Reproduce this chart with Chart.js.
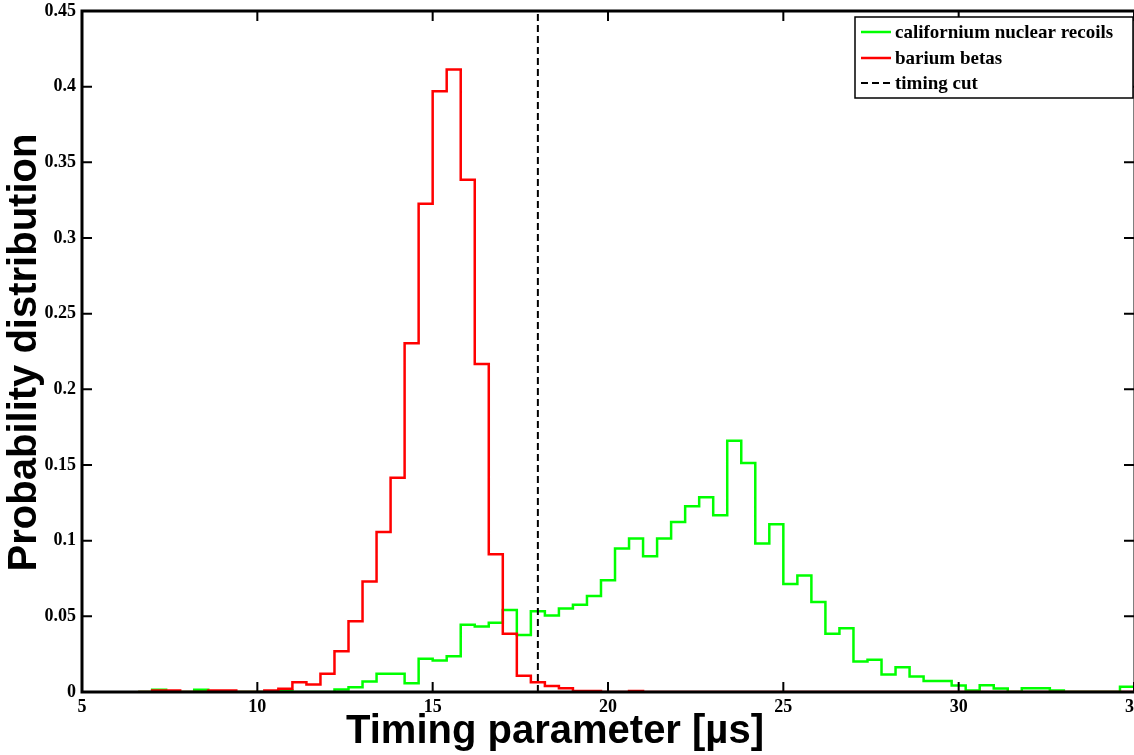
<!DOCTYPE html>
<html>
<head>
<meta charset="utf-8">
<script src="https://cdn.jsdelivr.net/npm/chart.js@4.4.0/dist/chart.umd.min.js"></script>
<style>
  html, body { margin: 0; padding: 0; background: #ffffff; }
  #wrap { width: 1134px; height: 755px; position: relative; }
</style>
</head>
<body>
<div id="wrap"><canvas id="c" width="1134" height="755"></canvas></div>
<script>
// Histogram bin centres [µs]; every bin is 0.4 µs wide
const binCenters = [
  6.8, 7.2, 7.6, 8.0, 8.4, 8.8, 9.2, 9.6, 10.0, 10.4,
  10.8, 11.2, 11.6, 12.0, 12.4, 12.8, 13.2, 13.6, 14.0, 14.4,
  14.8, 15.2, 15.6, 16.0, 16.4, 16.8, 17.2, 17.6, 18.0, 18.4,
  18.8, 19.2, 19.6, 20.0, 20.4, 20.8, 21.2, 21.6, 22.0, 22.4,
  22.8, 23.2, 23.6, 24.0, 24.4, 24.8, 25.2, 25.6, 26.0, 26.4,
  26.8, 27.2, 27.6, 28.0, 28.4, 28.8, 29.2, 29.6, 30.0, 30.4,
  30.8, 31.2, 31.6, 32.0, 32.4, 32.8, 33.2, 33.6, 34.0, 34.4,
  34.8
];
const binWidth = 0.4;

// Normalised counts per bin
const californiumRecoils = [
  0, 0.0015, 0, 0, 0.0015, 0, 0, 0, 0, 0,
  0.001, 0, 0, 0, 0.0017, 0.0032, 0.0069, 0.012, 0.012, 0.0058,
  0.022, 0.0208, 0.0237, 0.0445, 0.0433, 0.0458, 0.0542, 0.0376, 0.0534, 0.0506,
  0.0551, 0.0577, 0.0634, 0.0738, 0.0948, 0.1014, 0.0897, 0.1014, 0.1124, 0.1228,
  0.1287, 0.1168, 0.166, 0.1514, 0.0981, 0.1108, 0.0713, 0.077, 0.0594, 0.0385,
  0.0422, 0.0202, 0.0213, 0.0116, 0.0164, 0.0103, 0.0072, 0.0072, 0.0043, 0.001,
  0.0045, 0.0023, 0, 0.0025, 0.0025, 0.001, 0, 0, 0, 0,
  0.0034
];
const bariumBetas = [
  0, 0.001, 0.001, 0, 0, 0.001, 0.001, 0, 0, 0.001,
  0.0022, 0.0065, 0.005, 0.012, 0.027, 0.0467, 0.0731, 0.1058, 0.1415, 0.2304,
  0.3226, 0.397, 0.4113, 0.3385, 0.2167, 0.091, 0.0385, 0.0108, 0.0065, 0.004,
  0.0025, 0.0007, 0.0007, 0, 0, 0.0007, 0, 0, 0, 0,
  0, 0, 0, 0, 0, 0, 0, 0, 0, 0,
  0, 0, 0, 0, 0, 0, 0, 0, 0, 0,
  0, 0, 0, 0, 0, 0, 0, 0, 0, 0,
  0
];
const timingCut = 18;

const xTicks = [5, 10, 15, 20, 25, 30, 35];
const yTicks = [0, 0.05, 0.1, 0.15, 0.2, 0.25, 0.3, 0.35, 0.4, 0.45];
const seriesLabels = ['californium nuclear recoils', 'barium betas', 'timing cut'];
const xTitle = 'Timing parameter [µs]';
const yTitle = 'Probability distribution';

// Turn per-bin values into stair-step points at the bin edges:
// each point holds its bin's value from its left edge to the next point
function stairs(values) {
  const pts = binCenters.map((c, i) => ({ x: c - binWidth / 2, y: values[i] }));
  const last = binCenters.length - 1;
  pts.push({ x: binCenters[last] + binWidth / 2, y: values[last] });
  return pts;
}

// Box around the plot with inward tick marks on all four sides
const framePlugin = {
  id: 'frame',
  afterDatasetsDraw(chart) {
    const { ctx, chartArea: a, scales } = chart;
    const right = a.right + 1;
    ctx.save();
    ctx.strokeStyle = '#000';
    ctx.lineWidth = 3;
    ctx.beginPath();
    ctx.moveTo(a.left, a.top); ctx.lineTo(right, a.top);
    ctx.moveTo(a.left, a.bottom); ctx.lineTo(right, a.bottom);
    ctx.moveTo(a.left, a.top - 1.5); ctx.lineTo(a.left, a.bottom + 1.5);
    ctx.moveTo(right, a.top); ctx.lineTo(right, a.bottom);
    ctx.stroke();
    ctx.lineWidth = 2;
    ctx.beginPath();
    xTicks.forEach(v => {
      const px = scales.x.getPixelForValue(v);
      ctx.moveTo(px, a.bottom); ctx.lineTo(px, a.bottom - 10);
      ctx.moveTo(px, a.top); ctx.lineTo(px, a.top + 10);
    });
    yTicks.forEach(v => {
      const py = scales.y.getPixelForValue(v);
      ctx.moveTo(a.left, py); ctx.lineTo(a.left + 10, py);
      ctx.moveTo(right, py); ctx.lineTo(right - 11, py);
    });
    ctx.stroke();
    ctx.restore();
  }
};

// Axis titles and the boxed legend in the upper right corner
const annotatePlugin = {
  id: 'annotate',
  afterDraw(chart) {
    const { ctx, chartArea: a } = chart;
    ctx.save();
    ctx.fillStyle = '#000';
    ctx.font = 'bold 40px "Liberation Sans", Arial, sans-serif';
    ctx.textAlign = 'center';
    ctx.textBaseline = 'alphabetic';
    ctx.fillText(xTitle, 555, 743);
    ctx.save();
    ctx.translate(36, (a.top + a.bottom) / 2 + 1);
    ctx.rotate(-Math.PI / 2);
    ctx.fillText(yTitle, 0, 0);
    ctx.restore();

    // legend
    const bx = 855, by = 17, bw = 278, bh = 81;
    ctx.fillStyle = '#fff';
    ctx.fillRect(bx, by, bw, bh);
    ctx.strokeStyle = '#000';
    ctx.lineWidth = 1.5;
    ctx.strokeRect(bx, by, bw, bh);
    const rows = [32, 58, 83];
    chart.data.datasets.forEach((ds, i) => {
      const y = rows[i];
      ctx.beginPath();
      ctx.strokeStyle = ds.borderColor;
      ctx.lineWidth = ds.borderWidth;
      ctx.setLineDash(ds.borderDash || []);
      ctx.moveTo(861, y); ctx.lineTo(891, y);
      ctx.stroke();
      ctx.setLineDash([]);
      ctx.fillStyle = '#000';
      ctx.font = 'bold 19px "Liberation Serif", "Times New Roman", serif';
      ctx.textAlign = 'left';
      ctx.textBaseline = 'middle';
      ctx.fillText(ds.label, 895, y + 1);
    });
    ctx.restore();
  }
};

new Chart(document.getElementById('c'), {
  type: 'line',
  data: {
    datasets: [
      {
        label: seriesLabels[0],
        data: stairs(californiumRecoils),
        borderColor: '#00ff00',
        borderWidth: 2.5,
        stepped: 'before',
        pointRadius: 0,
        fill: false,
        order: 2
      },
      {
        label: seriesLabels[1],
        data: stairs(bariumBetas),
        borderColor: '#ff0000',
        borderWidth: 2.5,
        stepped: 'before',
        pointRadius: 0,
        fill: false,
        order: 1
      },
      {
        label: seriesLabels[2],
        data: [{ x: timingCut, y: 0 }, { x: timingCut, y: 0.45 }],
        borderColor: '#000000',
        borderWidth: 2,
        borderDash: [7, 4],
        pointRadius: 0,
        fill: false,
        order: 0
      }
    ]
  },
  options: {
    responsive: false,
    animation: false,
    devicePixelRatio: 1,
    layout: { padding: { top: 11, right: 0, bottom: 0, left: 0 }, autoPadding: false },
    plugins: { legend: { display: false }, tooltip: { enabled: false } },
    scales: {
      x: {
        type: 'linear',
        min: 5,
        max: 35,
        afterBuildTicks: s => { s.ticks = xTicks.map(v => ({ value: v })); },
        afterFit: s => { s.height = 63; s.paddingLeft = 0; s.paddingRight = 0; },
        grid: { display: false, drawTicks: false },
        border: { display: false },
        ticks: {
          font: { family: '"Liberation Serif", "Times New Roman", serif', size: 18, weight: 'bold' },
          color: '#000',
          padding: 5,
          maxRotation: 0,
          autoSkip: false,
          callback: v => String(v)
        }
      },
      y: {
        type: 'linear',
        min: 0,
        max: 0.45,
        afterBuildTicks: s => { s.ticks = yTicks.map(v => ({ value: v })); },
        afterFit: s => { s.width = 82; s.paddingTop = 0; s.paddingBottom = 0; },
        grid: { display: false, drawTicks: false },
        border: { display: false },
        ticks: {
          font: { family: '"Liberation Serif", "Times New Roman", serif', size: 18, weight: 'bold' },
          color: '#000',
          padding: 6,
          autoSkip: false,
          callback: v => String(Number(Number(v).toFixed(2)))
        }
      }
    }
  },
  plugins: [framePlugin, annotatePlugin]
});
</script>
</body>
</html>
